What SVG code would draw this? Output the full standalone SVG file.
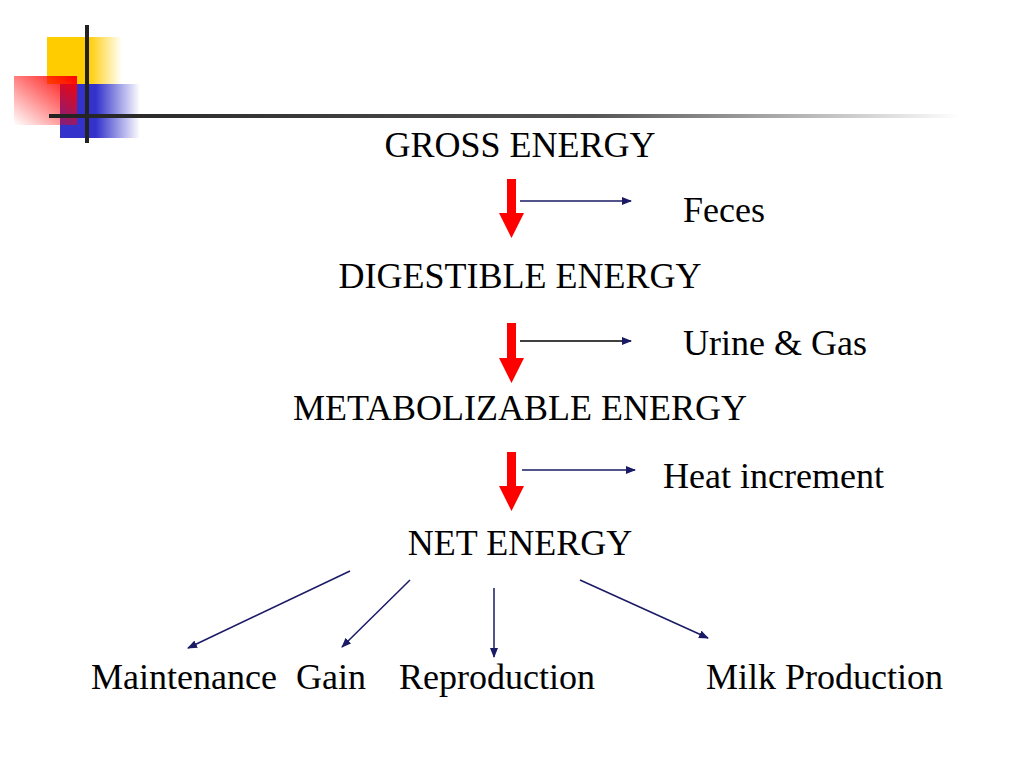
<svg xmlns="http://www.w3.org/2000/svg" width="1024" height="768" viewBox="0 0 1024 768">
<defs>
<linearGradient id="gy" x1="0" x2="1"><stop offset="0.55" stop-color="#ffcc00"/><stop offset="1" stop-color="#ffcc00" stop-opacity="0"/></linearGradient>
<linearGradient id="gb" x1="0" x2="1"><stop offset="0.45" stop-color="#3333cc"/><stop offset="1" stop-color="#3333cc" stop-opacity="0"/></linearGradient>
<linearGradient id="gr" x1="1" y1="0" x2="0" y2="1"><stop offset="0" stop-color="#ff0000"/><stop offset="1" stop-color="#ff0000" stop-opacity="0"/></linearGradient>
<linearGradient id="gl" x1="0" x2="1"><stop offset="0" stop-color="#222"/><stop offset="0.6" stop-color="#555"/><stop offset="1" stop-color="#555" stop-opacity="0"/></linearGradient>
<marker id="ah" markerWidth="10" markerHeight="8" refX="9" refY="4" orient="auto" markerUnits="userSpaceOnUse"><path d="M0,0 L10,4 L0,8 Z" fill="#1a1a66"/></marker>
<style>
text{font-family:"Liberation Serif","Times New Roman",serif;font-size:36px;fill:#000}
.c{text-anchor:middle}
.t{stroke:#1a1a66;stroke-width:1.5;fill:none;marker-end:url(#ah)}
.r{fill:#ff0000}
</style>
</defs>
<g id="decor">
<rect x="47" y="37" width="75" height="47" fill="url(#gy)"/>
<rect x="60" y="84" width="80" height="54" fill="url(#gb)"/>
<rect x="14" y="76" width="63" height="49" fill="url(#gr)"/>
<rect x="85" y="25" width="4" height="118" fill="#222"/>
<rect x="49" y="114" width="911" height="4" fill="url(#gl)"/>
</g>
<g id="n1"><text class="c" x="520" y="157">GROSS ENERGY</text></g>
<g id="n2"><text x="683" y="222">Feces</text></g>
<g id="n3"><text class="c" x="520" y="288">DIGESTIBLE ENERGY</text></g>
<g id="n4"><text x="683" y="355">Urine &amp; Gas</text></g>
<g id="n5"><text class="c" x="520" y="420">METABOLIZABLE ENERGY</text></g>
<g id="n6"><text x="663" y="488">Heat increment</text></g>
<g id="n7"><text class="c" x="520" y="555">NET ENERGY</text></g>
<g id="n8"><text x="91" y="689">Maintenance</text></g>
<g id="n9"><text x="296" y="689">Gain</text></g>
<g id="n10"><text x="399" y="689">Reproduction</text></g>
<g id="n11"><text x="706" y="689">Milk Production</text></g>
<g id="connectors">
<path class="r" d="M507,179 H516 V213 H524 L511.5,238 L499,213 H507 Z"/>
<path class="r" d="M507,323 H516 V358 H524 L511.5,383 L499,358 H507 Z"/>
<path class="r" d="M507,452 H516 V486 H524 L511.5,511 L499,486 H507 Z"/>
<line class="t" x1="520" y1="201" x2="631" y2="201"/>
<line class="t" x1="520" y1="341" x2="631" y2="341" style="stroke:#000"/>
<line class="t" x1="522" y1="470" x2="635" y2="470"/>
<line class="t" x1="350" y1="571" x2="188" y2="648"/>
<line class="t" x1="410" y1="580" x2="342" y2="647"/>
<line class="t" x1="494" y1="588" x2="494" y2="657"/>
<line class="t" x1="580" y1="580" x2="708" y2="638"/>
</g>
</svg>
